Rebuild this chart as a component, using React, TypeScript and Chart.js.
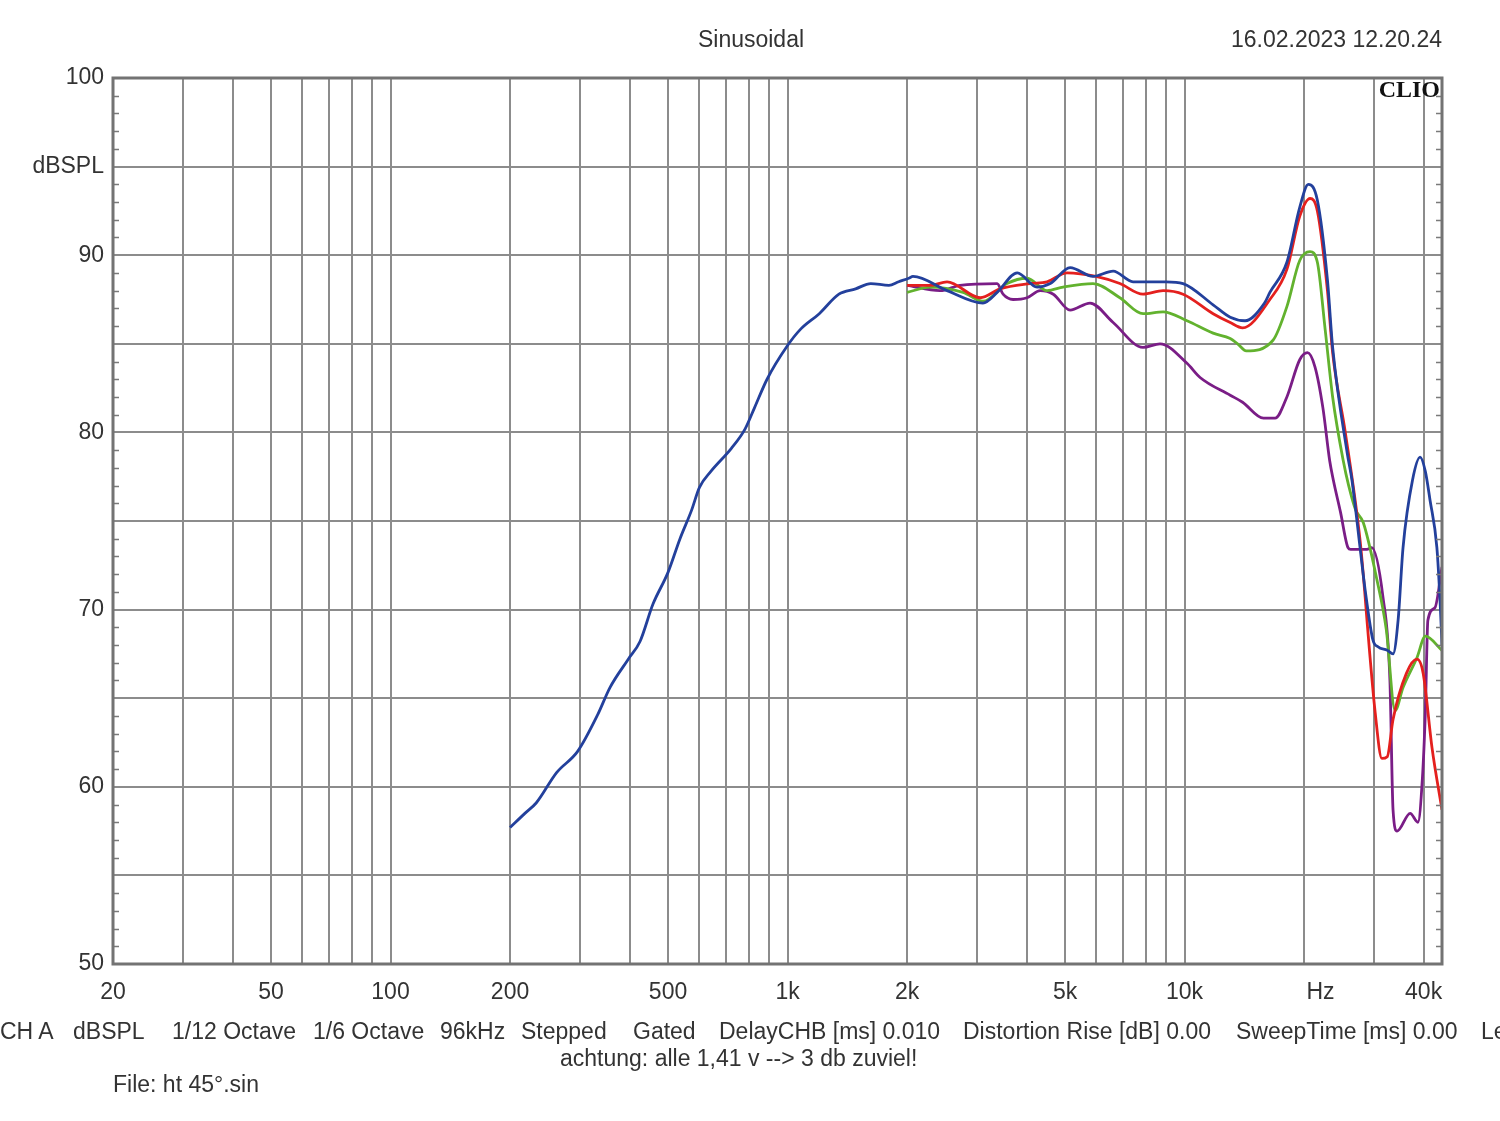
import React, { useEffect, useRef } from "react";
import { Chart, registerables } from "chart.js";
Chart.register(...registerables);

// ---- Data (frequency in Hz, level in dBSPL) ----
const blueFreq = [200, 218, 233, 262, 296, 333, 357, 397, 425, 458, 500, 536, 573, 600, 641, 722, 782, 826, 888, 1000, 1076, 1202, 1347, 1484, 1620, 1800, 1905, 2020, 2070, 2522, 3106, 3372, 3790, 4250, 4590, 5148, 5880, 6608, 7416, 8990, 9912, 11800, 13030, 14200, 15900, 16400, 18100, 19500, 20500, 21600, 22900, 23600, 25700, 26400, 27700, 28500, 29800, 30700, 32400, 33500, 34500, 35500, 37500, 39200, 40400, 41500, 43200, 44000, 44500];
const blueDb = [57.7, 58.5, 59.1, 60.8, 62.0, 64.1, 65.6, 67.2, 68.2, 70.3, 72.1, 74.0, 75.6, 76.9, 77.8, 79.1, 80.2, 81.4, 83.0, 84.9, 85.8, 86.7, 87.8, 88.1, 88.4, 88.3, 88.5, 88.7, 88.8, 88.0, 87.3, 87.9, 89.0, 88.2, 88.4, 89.3, 88.8, 89.1, 88.5, 88.5, 88.4, 87.2, 86.5, 86.3, 87.3, 87.9, 89.6, 92.7, 94.0, 93.1, 88.6, 84.8, 78.8, 77.3, 73.4, 71.1, 68.3, 67.9, 67.7, 67.5, 69.4, 73.5, 77.3, 78.6, 77.8, 76.2, 73.5, 70.5, 68.0];

const redFreq = [2000, 2286, 2522, 3056, 3430, 4080, 4504, 5060, 5980, 6870, 7858, 8830, 9912, 11800, 13030, 14000, 16400, 18100, 19500, 20700, 21600, 22900, 23600, 25400, 27700, 28500, 28800, 30200, 31400, 32400, 33500, 36200, 38500, 39900, 42000, 44500];
const redDb = [88.3, 88.3, 88.5, 87.6, 88.1, 88.4, 88.5, 89.0, 88.8, 88.4, 87.8, 88.0, 87.8, 86.7, 86.2, 85.9, 87.5, 89.2, 92.2, 93.2, 92.5, 88.0, 84.5, 80.0, 73.8, 70.7, 69.4, 64.2, 61.6, 61.7, 63.8, 66.4, 67.2, 66.4, 62.2, 58.7];

const greenFreq = [2000, 2286, 2768, 3106, 3570, 4012, 4504, 4944, 5880, 6870, 7858, 8830, 10140, 11800, 13030, 13600, 14300, 16700, 18100, 19500, 20700, 21600, 22600, 23600, 25100, 25900, 27000, 28200, 30500, 32200, 33900, 35500, 38500, 40400, 44500];
const greenDb = [87.9, 88.2, 87.9, 87.4, 88.4, 88.7, 88.0, 88.2, 88.4, 87.6, 86.7, 86.8, 86.3, 85.6, 85.3, 85.0, 84.6, 85.2, 87.1, 89.7, 90.2, 89.6, 85.8, 82.0, 78.4, 77.0, 75.6, 74.9, 71.7, 68.9, 64.3, 65.6, 67.3, 68.5, 67.7];

const purpleFreq = [2000, 2422, 2720, 3372, 3490, 3698, 4012, 4330, 4670, 5148, 5780, 6608, 7858, 8672, 10140, 10940, 13030, 14000, 15800, 16900, 18100, 19500, 20400, 21300, 22300, 23200, 23700, 24700, 25800, 26200, 28800, 29600, 31600, 32900, 33500, 34300, 37000, 38700, 39700, 40400, 41000, 42700, 44500];
const purpleDb = [88.3, 88.0, 88.3, 88.4, 87.8, 87.5, 87.6, 88.0, 87.8, 86.9, 87.3, 86.2, 84.8, 85.0, 83.9, 83.1, 82.1, 81.7, 80.8, 80.8, 82.0, 84.1, 84.5, 83.7, 81.4, 78.4, 77.3, 75.5, 73.5, 73.4, 73.4, 73.5, 70.7, 66.0, 58.7, 57.5, 58.5, 58.0, 60.4, 64.2, 69.4, 70.1, 72.4];

const xGridValues = [20, 30, 40, 50, 60, 70, 80, 90, 100, 200, 300, 400, 500, 600, 700, 800, 900, 1000, 2000, 3000, 4000, 5000, 6000, 7000, 8000, 9000, 10000, 20000, 30000, 40000, 44500];
const xLabelOnly = [22000]; // position of the unit label "Hz" (no grid line)
const xTickLabels: Record<number, string> = { 20: "20", 50: "50", 100: "100", 200: "200", 500: "500", 1000: "1k", 2000: "2k", 5000: "5k", 10000: "10k", 22000: "Hz", 40000: "40k" };
const yGridValues = [50, 55, 60, 65, 70, 75, 80, 85, 90, 95, 100];
const yTickLabels: Record<number, string> = { 100: "100", 95: "dBSPL", 90: "90", 80: "80", 70: "70", 60: "60", 50: "50" };

const footerItems: [string, number][] = [
  ["CH A", 0], ["dBSPL", 73], ["1/12 Octave", 172], ["1/6 Octave", 313], ["96kHz", 440], ["Stepped", 521], ["Gated", 633],
  ["DelayCHB [ms] 0.010", 719], ["Distortion Rise [dB] 0.00", 963], ["SweepTime [ms] 0.00", 1236], ["Level", 1481],
];

const toPoints = (f: number[], d: number[]) => f.map((x, i) => ({ x, y: d[i] }));

const FONT = "'Liberation Sans', Arial, sans-serif";
const GRID = "#8c8c8c";

const framePlugin = {
  id: "frame",
  afterDraw(chart: any) {
    const { ctx, chartArea } = chart;
    const ys = chart.scales.y;
    ctx.save();
    ctx.strokeStyle = "#7a7a7a";
    ctx.lineWidth = 1.5;
    for (let v = 51; v < 100; v++) {
      if (v % 5 === 0) continue;
      const py = Math.round(ys.getPixelForValue(v)) + 0.5;
      ctx.beginPath();
      ctx.moveTo(chartArea.left, py);
      ctx.lineTo(chartArea.left + 6, py);
      ctx.moveTo(chartArea.right - 6, py);
      ctx.lineTo(chartArea.right, py);
      ctx.stroke();
    }
    ctx.strokeStyle = "#737373";
    ctx.lineWidth = 3;
    ctx.strokeRect(chartArea.left, chartArea.top, chartArea.right - chartArea.left, chartArea.bottom - chartArea.top);
    ctx.restore();
  },
};

export default function App() {
  const ref = useRef<HTMLCanvasElement>(null);
  useEffect(() => {
    if (!ref.current) return;
    const mk = (label: string, f: number[], d: number[], color: string, order: number) => ({
      label,
      data: toPoints(f, d),
      borderColor: color,
      backgroundColor: color,
      borderWidth: 2.8,
      pointRadius: 0,
      cubicInterpolationMode: "monotone" as const,
      order,
    });
    const allX = [...xGridValues, ...xLabelOnly].sort((a, b) => a - b);
    const chart = new Chart(ref.current, {
      type: "line",
      data: {
        datasets: [
          mk("blue", blueFreq, blueDb, "#23409c", 0),
          mk("red", redFreq, redDb, "#e4201e", 1),
          mk("green", greenFreq, greenDb, "#62b22e", 2),
          mk("purple", purpleFreq, purpleDb, "#7a1d86", 3),
        ],
      },
      options: {
        animation: false,
        responsive: false,
        maintainAspectRatio: false,
        layout: { padding: { left: 0, top: 78, right: 58, bottom: 97 } },
        plugins: { legend: { display: false }, tooltip: { enabled: false } },
        scales: {
          x: {
            type: "logarithmic",
            min: 20,
            max: 44500,
            afterBuildTicks: (s: any) => { s.ticks = allX.map((v) => ({ value: v })); },
            afterFit: (s: any) => { s.height = 60; },
            ticks: {
              autoSkip: false,
              maxRotation: 0,
              padding: 15,
              color: "#333",
              font: { family: FONT, size: 23 },
              callback: (v: any) => xTickLabels[Number(v)] ?? "",
            },
            grid: {
              color: (c: any) => (c.tick && xLabelOnly.includes(c.tick.value) ? "rgba(0,0,0,0)" : GRID),
              lineWidth: 2,
              drawTicks: false,
            },
            border: { display: false },
          },
          y: {
            type: "linear",
            min: 50,
            max: 100,
            afterBuildTicks: (s: any) => { s.ticks = yGridValues.map((v) => ({ value: v })); },
            afterFit: (s: any) => { s.width = 113; },
            ticks: {
              autoSkip: false,
              padding: 9,
              color: "#333",
              font: { family: FONT, size: 23 },
              callback: (v: any) => yTickLabels[Number(v)] ?? "",
            },
            grid: { color: GRID, lineWidth: 2, drawTicks: false },
            border: { display: false },
          },
        },
      },
      plugins: [framePlugin],
    });
    return () => chart.destroy();
  }, []);

  const txt: React.CSSProperties = { position: "absolute", fontFamily: FONT, fontSize: 23, color: "#333", whiteSpace: "nowrap", lineHeight: "26px" };
  return (
    <div style={{ position: "absolute", left: 0, top: 0, width: 1500, height: 1121, overflow: "hidden", background: "#fff" }}>
      <canvas ref={ref} width={1500} height={1121} style={{ position: "absolute", left: 0, top: 0, width: 1500, height: 1121 }} />
      <div style={{ ...txt, left: 751, top: 26, transform: "translateX(-50%)" }}>Sinusoidal</div>
      <div style={{ ...txt, right: 58, top: 26 }}>16.02.2023 12.20.24</div>
      <div style={{ position: "absolute", right: 60, top: 76, fontFamily: "'Liberation Serif', 'DejaVu Serif', serif", fontWeight: "bold", fontSize: 24, color: "#111" }}>CLIO</div>
      {footerItems.map(([t, x]) => (
        <div key={t} style={{ ...txt, left: x, top: 1018 }}>{t}</div>
      ))}
      <div style={{ ...txt, left: 560, top: 1045 }}>achtung: alle 1,41 v --&gt; 3 db zuviel!</div>
      <div style={{ ...txt, left: 113, top: 1071 }}>File: ht 45°.sin</div>
    </div>
  );
}
